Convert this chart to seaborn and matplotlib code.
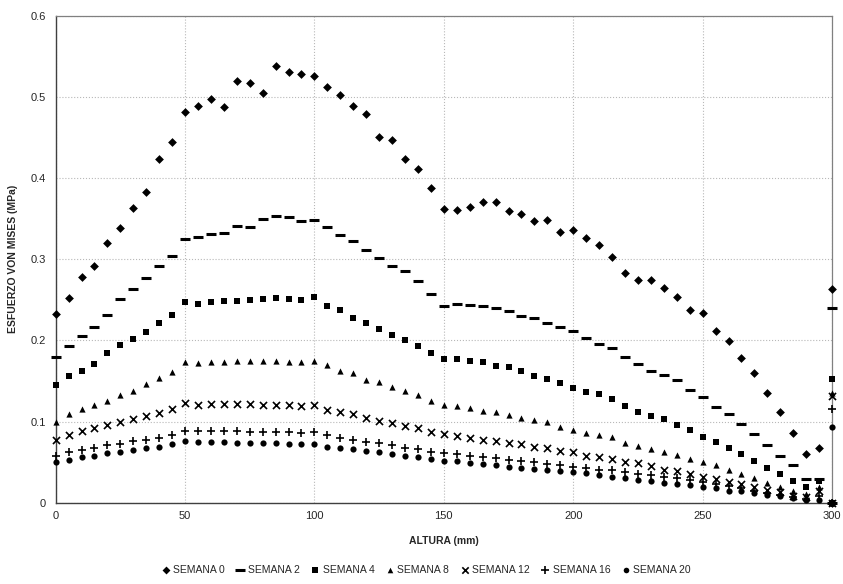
"""
Esfuerzo de von Mises vs altura, una serie por semana.
Guarda out.png (843x584).
"""
import matplotlib
matplotlib.use("Agg")
import matplotlib.pyplot as plt
import pandas as pd
import seaborn as sns

# altura (mm): nodos cada 5 mm, el nodo de 300 mm aparece dos veces (tope y apoyo)
ALTURA = list(range(0, 301, 5)) + [300]

SEMANA_0 = [
    0.233, 0.252, 0.278, 0.292, 0.320, 0.339, 0.363, 0.383, 0.423, 0.445,
    0.482, 0.489, 0.497, 0.488, 0.520, 0.517, 0.505, 0.538, 0.531, 0.528,
    0.526, 0.512, 0.502, 0.489, 0.479, 0.451, 0.447, 0.423, 0.411, 0.388,
    0.362, 0.361, 0.364, 0.370, 0.370, 0.360, 0.356, 0.347, 0.349, 0.334,
    0.336, 0.326, 0.317, 0.303, 0.283, 0.275, 0.274, 0.265, 0.254, 0.237,
    0.234, 0.212, 0.199, 0.178, 0.160, 0.135, 0.112, 0.086, 0.060, 0.068,
    0.263, 0.0,
]
SEMANA_2 = [
    0.180, 0.193, 0.206, 0.216, 0.231, 0.251, 0.263, 0.277, 0.292, 0.304,
    0.325, 0.327, 0.331, 0.333, 0.341, 0.340, 0.350, 0.353, 0.352, 0.347,
    0.349, 0.340, 0.330, 0.323, 0.311, 0.301, 0.292, 0.285, 0.273, 0.257,
    0.242, 0.245, 0.244, 0.243, 0.240, 0.236, 0.230, 0.228, 0.221, 0.217,
    0.212, 0.203, 0.196, 0.191, 0.180, 0.171, 0.162, 0.158, 0.151, 0.139,
    0.130, 0.118, 0.110, 0.097, 0.085, 0.071, 0.058, 0.046, 0.029, 0.029,
    0.240, 0.0,
]
SEMANA_4 = [
    0.145, 0.156, 0.163, 0.171, 0.184, 0.194, 0.202, 0.210, 0.221, 0.231,
    0.247, 0.245, 0.247, 0.249, 0.249, 0.250, 0.251, 0.252, 0.251, 0.250,
    0.253, 0.242, 0.237, 0.228, 0.221, 0.214, 0.207, 0.201, 0.193, 0.184,
    0.177, 0.177, 0.175, 0.173, 0.168, 0.167, 0.163, 0.156, 0.153, 0.147,
    0.141, 0.137, 0.134, 0.128, 0.119, 0.112, 0.107, 0.103, 0.096, 0.090,
    0.081, 0.075, 0.068, 0.060, 0.051, 0.043, 0.035, 0.027, 0.019, 0.027,
    0.153, 0.0,
]
SEMANA_8 = [
    0.100, 0.110, 0.115, 0.121, 0.126, 0.133, 0.138, 0.146, 0.154, 0.161,
    0.174, 0.172, 0.173, 0.174, 0.175, 0.175, 0.175, 0.175, 0.174, 0.174,
    0.175, 0.170, 0.162, 0.160, 0.151, 0.149, 0.143, 0.138, 0.133, 0.126,
    0.120, 0.119, 0.117, 0.113, 0.112, 0.108, 0.105, 0.102, 0.099, 0.094,
    0.090, 0.086, 0.083, 0.081, 0.074, 0.070, 0.066, 0.063, 0.059, 0.054,
    0.050, 0.046, 0.040, 0.036, 0.030, 0.024, 0.019, 0.014, 0.011, 0.020,
    0.135, 0.0,
]
SEMANA_12 = [
    0.078, 0.083, 0.088, 0.092, 0.096, 0.099, 0.103, 0.107, 0.111, 0.115,
    0.123, 0.121, 0.122, 0.122, 0.122, 0.122, 0.121, 0.121, 0.120, 0.119,
    0.120, 0.114, 0.112, 0.109, 0.104, 0.101, 0.098, 0.095, 0.092, 0.087,
    0.085, 0.082, 0.080, 0.078, 0.076, 0.074, 0.072, 0.069, 0.067, 0.064,
    0.062, 0.058, 0.056, 0.054, 0.050, 0.049, 0.045, 0.041, 0.039, 0.036,
    0.032, 0.029, 0.026, 0.023, 0.019, 0.016, 0.013, 0.009, 0.007, 0.014,
    0.131, 0.0,
]
SEMANA_16 = [
    0.058, 0.063, 0.065, 0.068, 0.071, 0.073, 0.076, 0.078, 0.080, 0.084,
    0.089, 0.088, 0.088, 0.088, 0.088, 0.087, 0.087, 0.087, 0.087, 0.086,
    0.087, 0.083, 0.080, 0.078, 0.075, 0.074, 0.071, 0.068, 0.066, 0.063,
    0.061, 0.060, 0.058, 0.056, 0.055, 0.053, 0.051, 0.050, 0.048, 0.046,
    0.044, 0.043, 0.041, 0.040, 0.038, 0.036, 0.034, 0.032, 0.030, 0.028,
    0.026, 0.023, 0.021, 0.018, 0.015, 0.012, 0.010, 0.007, 0.005, 0.009,
    0.115, 0.0,
]
SEMANA_20 = [
    0.050, 0.053, 0.056, 0.058, 0.061, 0.062, 0.065, 0.067, 0.069, 0.072,
    0.076, 0.075, 0.075, 0.075, 0.074, 0.074, 0.074, 0.074, 0.073, 0.073,
    0.073, 0.069, 0.068, 0.066, 0.064, 0.062, 0.060, 0.058, 0.056, 0.054,
    0.052, 0.051, 0.049, 0.048, 0.046, 0.044, 0.043, 0.042, 0.041, 0.039,
    0.038, 0.037, 0.034, 0.032, 0.030, 0.028, 0.027, 0.025, 0.023, 0.022,
    0.020, 0.018, 0.015, 0.014, 0.012, 0.010, 0.008, 0.006, 0.004, 0.004,
    0.093, 0.0,
]

SERIES = ["SEMANA 0", "SEMANA 2", "SEMANA 4", "SEMANA 8",
          "SEMANA 12", "SEMANA 16", "SEMANA 20"]
VALORES = [SEMANA_0, SEMANA_2, SEMANA_4, SEMANA_8,
           SEMANA_12, SEMANA_16, SEMANA_20]

X_TICKS = [0, 50, 100, 150, 200, 250, 300]
Y_TICKS = [0, 0.1, 0.2, 0.3, 0.4, 0.5, 0.6]
Y_TICK_LABELS = ["0", "0.1", "0.2", "0.3", "0.4", "0.5", "0.6"]

# marker, size, linewidth, filled
ESTILOS = {
    "SEMANA 0":  ("D", 20, 0.0, True),
    "SEMANA 2":  ("_", 52, 2.2, False),
    "SEMANA 4":  ("s", 17, 0.0, True),
    "SEMANA 8":  ("^", 20, 0.0, True),
    "SEMANA 12": ("x", 26, 1.2, False),
    "SEMANA 16": ("+", 34, 1.2, False),
    "SEMANA 20": ("o", 20, 0.0, True),
}

sns.set_style("white")
plt.rcParams["font.family"] = ["Liberation Sans", "DejaVu Sans"]

df = pd.DataFrame(
    [(serie, x, y) for serie, vals in zip(SERIES, VALORES) for x, y in zip(ALTURA, vals)],
    columns=["semana", "altura", "esfuerzo"],
)

fig = plt.figure(figsize=(8.43, 5.84), dpi=100)
ax = fig.add_axes([0.066, 0.139, 0.921, 0.834])

for serie in SERIES:
    marker, size, lw, filled = ESTILOS[serie]
    sub = df[df["semana"] == serie]
    kws = dict(marker=marker, s=size, color="black", linewidth=lw,
               clip_on=False, zorder=3, label=serie)
    if filled:
        kws["edgecolor"] = "black"
    sns.scatterplot(data=sub, x="altura", y="esfuerzo", ax=ax, **kws)

ax.set_xlim(0, 300)
ax.set_ylim(0, 0.6)
ax.set_xticks(X_TICKS)
ax.set_yticks(Y_TICKS)
ax.set_yticklabels(Y_TICK_LABELS)
ax.tick_params(axis="both", labelsize=8, length=4, width=0.8, color="0.3",
               direction="out", pad=3)
ax.tick_params(axis="x", length=0, pad=6)
ax.grid(True, color="0.72", linestyle=":", linewidth=0.8)
ax.set_axisbelow(True)

for side in ["left", "bottom"]:
    ax.spines[side].set_color("0.25")
    ax.spines[side].set_linewidth(1.0)
for side in ["top", "right"]:
    ax.spines[side].set_color("0.5")
    ax.spines[side].set_linewidth(0.9)

ax.set_xlabel("ALTURA (mm)", fontsize=7.5, fontweight="bold", labelpad=11)
ax.set_ylabel("ESFUERZO VON MISES (MPa)", fontsize=7.5, fontweight="bold", labelpad=9)

sns.move_legend(
    ax, "lower center", bbox_to_anchor=(0.505, 0.0), bbox_transform=fig.transFigure,
    ncol=7, frameon=False, fontsize=7.5, handletextpad=0.2, columnspacing=1.0,
    markerscale=0.9, handlelength=1.0, title=None,
)

fig.savefig("out.png", dpi=100)
plt.close(fig)
